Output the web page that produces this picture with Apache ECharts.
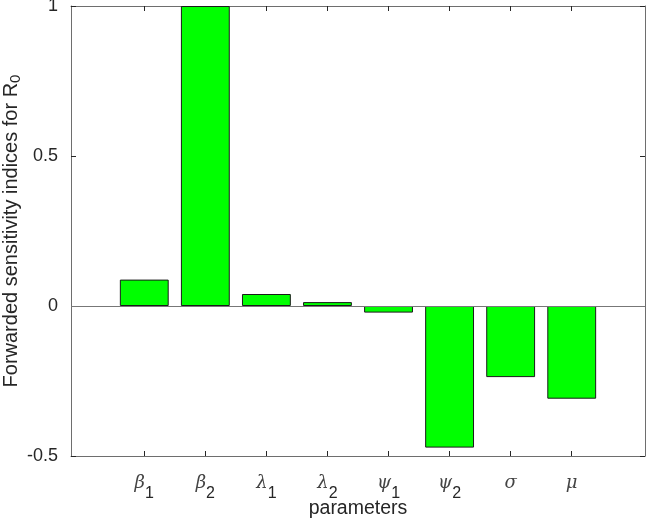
<!DOCTYPE html>
<html>
<head>
<meta charset="utf-8">
<script src="https://cdn.jsdelivr.net/npm/echarts@6/dist/echarts.min.js"></script>
<style>
  html, body { margin: 0; padding: 0; background: #fff; }
  #chart { width: 646px; height: 519px; }
</style>
</head>
<body>
<div id="chart"></div>
<script>
// 参数名（希腊字母 + 下标）
var paramSymbols = ['\u03b2', '\u03b2', '\u03bb', '\u03bb', '\u03c8', '\u03c8', '\u03c3', '\u03bc'];
var paramSubs = ['1', '2', '1', '2', '1', '2', '', ''];
// 灵敏度指数
var sensitivity = [0.088, 1.0, 0.040, 0.013, -0.022, -0.472, -0.237, -0.309];
var yTicks = [-0.5, 0, 0.5, 1];
var catPos = [1, 2, 3, 4, 5, 6, 7, 8];

var axisColor = '#6e6e6e';
var textColor = '#262626';
var font = 'Liberation Sans, Arial, sans-serif';

var chart = echarts.init(document.getElementById('chart'));

var gridLeft = 71, gridRight = 1;
var xMin = -0.2, xMax = 9.2;
var plotW = 646 - gridLeft - gridRight;
var barW = plotW / (xMax - xMin) * 0.8;

var barData = sensitivity.map(function (v, i) { return [catPos[i], v]; });

var option = {
  animation: false,
  grid: { left: gridLeft, right: gridRight, top: 6, bottom: 63, containLabel: false, outerBoundsMode: 'none' },
  xAxis: [
    {
      type: 'value',
      min: xMin,
      max: xMax,
      name: 'parameters',
      nameLocation: 'middle',
      nameGap: 43,
      nameMoveOverlap: false,
      nameTextStyle: { fontSize: 19.5, color: textColor, fontFamily: font },
      axisLine: { show: true, onZero: false, lineStyle: { color: axisColor, width: 1 } },
      axisTick: { show: true, inside: true, length: 5, customValues: catPos, lineStyle: { color: textColor } },
      splitLine: { show: false },
      axisLabel: {
        customValues: catPos,
        margin: 17,
        formatter: function (val) {
          var i = Math.round(val) - 1;
          if (i < 0 || i >= paramSymbols.length) return '';
          var s = '{g|' + paramSymbols[i] + '}';
          if (paramSubs[i]) s += '{s|' + paramSubs[i] + '}';
          return s;
        },
        rich: {
          g: { fontSize: 18, fontStyle: 'italic', fontFamily: 'DejaVu Serif, serif', color: '#444', verticalAlign: 'top', height: 20 },
          s: { fontSize: 16, fontFamily: font, color: textColor, padding: [11, 0, 0, 0], verticalAlign: 'top', height: 20 }
        }
      }
    },
    {
      type: 'value',
      position: 'top',
      min: xMin,
      max: xMax,
      axisLine: { show: true, onZero: false, lineStyle: { color: axisColor, width: 1 } },
      axisTick: { show: true, inside: true, length: 5, customValues: catPos, lineStyle: { color: textColor } },
      axisLabel: { show: false },
      splitLine: { show: false }
    }
  ],
  yAxis: [
    {
      type: 'value',
      min: -0.5,
      max: 1,
      interval: 0.5,
      name: '{n|Forwarded sensitivity indices for R}{sub|0}',
      nameLocation: 'middle',
      nameGap: 50,
      nameMoveOverlap: false,
      nameTextStyle: {
        fontSize: 20, color: textColor, fontFamily: font,
        rich: {
          n: { fontSize: 20, color: textColor, fontFamily: font },
          sub: { fontSize: 15, color: textColor, fontFamily: font, padding: [0, 0, -10, 0] }
        }
      },
      axisLine: { show: true, onZero: false, lineStyle: { color: axisColor, width: 1 } },
      axisTick: { show: true, inside: true, length: 5, lineStyle: { color: textColor } },
      splitLine: { show: false },
      axisLabel: {
        margin: 13,
        fontSize: 18,
        color: textColor,
        fontFamily: font,
        formatter: function (v) { return yTicks.indexOf(v) >= 0 ? String(v) : ''; }
      }
    },
    {
      type: 'value',
      position: 'right',
      min: -0.5,
      max: 1,
      interval: 0.5,
      axisLine: { show: true, onZero: false, lineStyle: { color: axisColor, width: 1 } },
      axisTick: { show: true, inside: true, length: 5, lineStyle: { color: textColor } },
      axisLabel: { show: false },
      splitLine: { show: false }
    }
  ],
  series: [
    {
      type: 'bar',
      data: barData,
      barWidth: barW,
      itemStyle: { color: '#00ff00', borderColor: '#1a1a1a', borderWidth: 1 },
      markLine: {
        silent: true,
        symbol: 'none',
        label: { show: false },
        lineStyle: { color: '#777', width: 1, type: 'solid' },
        data: [{ yAxis: 0 }]
      }
    }
  ]
};

chart.setOption(option);
</script>
</body>
</html>
